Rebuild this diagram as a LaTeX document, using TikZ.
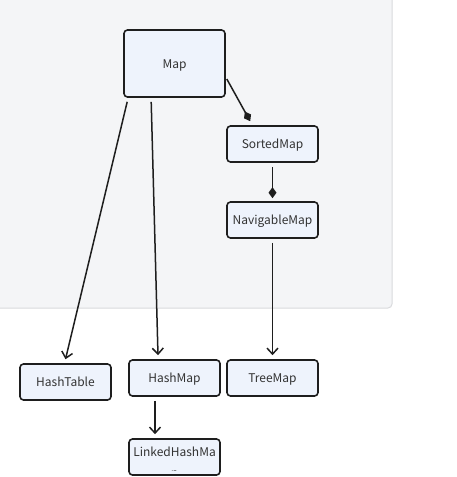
\documentclass[tikz,border=0pt]{standalone}
\usepackage{fontspec}
\setmainfont{Noto Sans CJK SC}
\usetikzlibrary{arrows.meta,calc}
\definecolor{panelbg}{HTML}{F4F5F7}
\definecolor{panelline}{HTML}{D9DADD}
\definecolor{boxfill}{HTML}{EEF3FC}
\definecolor{boxline}{HTML}{1E1E1E}
\definecolor{txt}{HTML}{333333}
\tikzset{
  box/.style={draw=boxline, fill=boxfill, line width=1.6pt, rounded corners=3.5pt,
    text=txt, font=\fontsize{12}{14}\selectfont, inner sep=0pt, text height=9.5pt, text depth=0pt},
  arr/.style={draw=boxline, line width=1.5pt, -{Straight Barb[length=6pt,width=11pt,line width=1.5pt]}},
  dia/.style={draw=boxline, line width=1.5pt, -{Diamond[length=11pt,width=8pt]}},
}
\begin{document}
\begin{tikzpicture}[x=1pt,y=-1pt]
\useasboundingbox (0,0) rectangle (457,477);
% panel
\fill[panelbg] (-5,-5) -- (392,-5) -- (392,304) to[out=-90,in=0] (388,308) -- (-5,308) -- cycle;
\draw[panelline, line width=1pt] (392,-5) -- (392,304) to[out=-90,in=0] (388,308) -- (-5,308);
% nodes
\node[box, minimum width=101pt, minimum height=67pt] (Map) at (174.5,63.5) {Map};
\node[box, minimum width=91pt, minimum height=36pt] (Sorted) at (272.5,144) {SortedMap};
\node[box, minimum width=91pt, minimum height=36pt] (Nav) at (272.5,220) {NavigableMap};
\node[box, minimum width=91pt, minimum height=36pt] (HT) at (65.5,382) {HashTable};
\node[box, minimum width=91pt, minimum height=36pt] (HM) at (174.5,378) {HashMap};
\node[box, minimum width=91pt, minimum height=36pt] (TM) at (272.5,378) {TreeMap};
\node[box, minimum width=91pt, minimum height=36pt] (LHM) at (174.5,457) {};
\begin{scope}
\clip ([shift={(1,1)}]LHM.north west) rectangle ([shift={(-1,-5)}]LHM.south east);
\node[text=txt, font=\fontsize{12}{21}\selectfont, align=center, anchor=north, inner sep=0pt] (LHMt) at ([yshift=-9pt]LHM.north) {LinkedHashMa\\p};
\end{scope}
% connectors
\draw[dia] ([shift={(1,15.5)}]Map.east) -- ([shift={(24,-4)}]Sorted.north west);
\draw[dia] ([yshift=-4pt]Sorted.south) -- ([yshift=3pt]Nav.north);
\draw[arr] ([shift={(4,4)}]Map.south west) -- ([yshift=4pt]HT.north);
\draw[arr] ([shift={(28,4)}]Map.south west) -- ([shift={(-16.5,-4)}]HM.north);
\draw[arr] ([yshift=-4pt]Nav.south) -- ([yshift=4pt]TM.north);
\draw[arr] ([shift={(-19.5,4)}]HM.south) -- ([shift={(-19.5,-4)}]LHM.north);
\end{tikzpicture}
\end{document}
